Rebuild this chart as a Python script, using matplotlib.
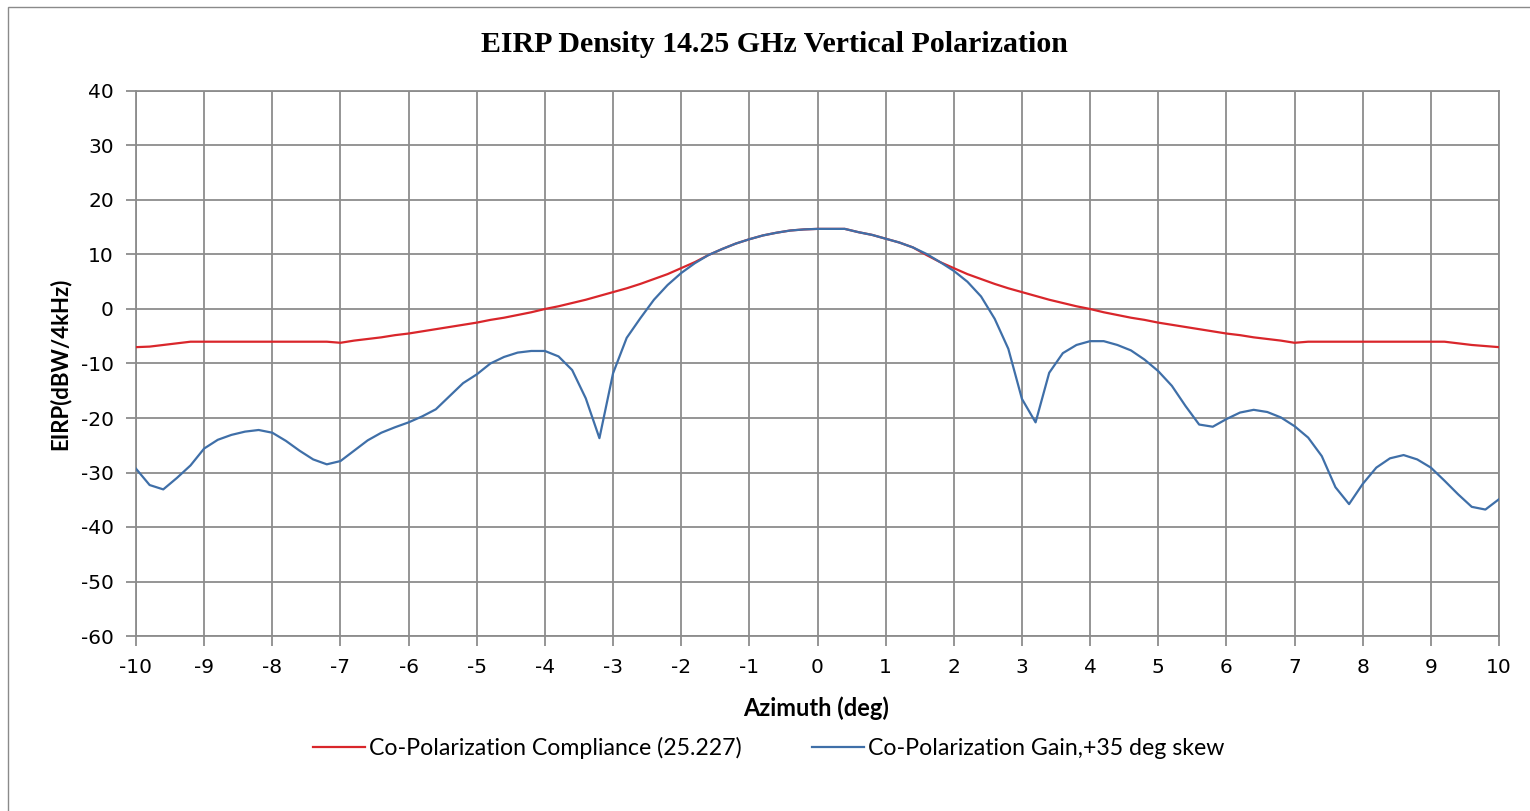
import numpy as np
import matplotlib
matplotlib.use('Agg')
import matplotlib.pyplot as plt
from matplotlib.patches import Rectangle

plt.rcParams['axes.unicode_minus'] = False

# Azimuth samples (deg), 0.2 deg steps
azimuth = [
    -10.0, -9.8, -9.6, -9.4, -9.2, -9.0, -8.8, -8.6, -8.4, -8.2,
    -8.0, -7.8, -7.6, -7.4, -7.2, -7.0, -6.8, -6.6, -6.4, -6.2,
    -6.0, -5.8, -5.6, -5.4, -5.2, -5.0, -4.8, -4.6, -4.4, -4.2,
    -4.0, -3.8, -3.6, -3.4, -3.2, -3.0, -2.8, -2.6, -2.4, -2.2,
    -2.0, -1.8, -1.6, -1.4, -1.2, -1.0, -0.8, -0.6, -0.4, -0.2,
    0.0, 0.2, 0.4, 0.6, 0.8, 1.0, 1.2, 1.4, 1.6, 1.8,
    2.0, 2.2, 2.4, 2.6, 2.8, 3.0, 3.2, 3.4, 3.6, 3.8,
    4.0, 4.2, 4.4, 4.6, 4.8, 5.0, 5.2, 5.4, 5.6, 5.8,
    6.0, 6.2, 6.4, 6.6, 6.8, 7.0, 7.2, 7.4, 7.6, 7.8,
    8.0, 8.2, 8.4, 8.6, 8.8, 9.0, 9.2, 9.4, 9.6, 9.8,
    10.0,
]

# Co-Polarization Compliance (25.227), dBW/4kHz
compliance = [
    -7.0, -6.9, -6.6, -6.3, -6.0, -6.0, -6.0, -6.0, -6.0, -6.0,
    -6.0, -6.0, -6.0, -6.0, -6.0, -6.2, -5.8, -5.5, -5.2, -4.8,
    -4.5, -4.1, -3.7, -3.3, -2.9, -2.5, -2.0, -1.6, -1.1, -0.6,
    0.0, 0.5, 1.1, 1.7, 2.4, 3.1, 3.8, 4.6, 5.5, 6.4,
    7.5, 8.6, 9.9, 11.0, 12.0, 12.8, 13.5, 14.0, 14.4, 14.6,
    14.7, 14.7, 14.7, 14.1, 13.6, 12.9, 12.2, 11.3, 9.9, 8.6,
    7.5, 6.4, 5.5, 4.6, 3.8, 3.1, 2.4, 1.7, 1.1, 0.5,
    0.0, -0.6, -1.1, -1.6, -2.0, -2.5, -2.9, -3.3, -3.7, -4.1,
    -4.5, -4.8, -5.2, -5.5, -5.8, -6.2, -6.0, -6.0, -6.0, -6.0,
    -6.0, -6.0, -6.0, -6.0, -6.0, -6.0, -6.0, -6.3, -6.6, -6.8,
    -7.0,
]

# Co-Polarization Gain, +35 deg skew, dBW/4kHz
gain = [
    -29.3, -32.3, -33.1, -31.0, -28.7, -25.6, -24.0, -23.1, -22.5, -22.2,
    -22.7, -24.2, -26.0, -27.6, -28.5, -27.9, -26.0, -24.1, -22.7, -21.7,
    -20.8, -19.7, -18.4, -16.0, -13.6, -12.0, -10.0, -8.8, -8.0, -7.7,
    -7.7, -8.7, -11.2, -16.4, -23.7, -11.8, -5.3, -1.7, 1.7, 4.4,
    6.6, 8.4, 9.9, 11.0, 12.0, 12.8, 13.5, 14.0, 14.4, 14.6,
    14.7, 14.7, 14.7, 14.1, 13.6, 12.9, 12.2, 11.3, 10.1, 8.6,
    7.0, 5.0, 2.3, -1.8, -7.3, -16.5, -20.8, -11.7, -8.1, -6.6,
    -5.9, -5.9, -6.6, -7.6, -9.3, -11.4, -14.1, -17.8, -21.2, -21.6,
    -20.2, -19.0, -18.5, -18.9, -19.9, -21.5, -23.6, -27.0, -32.7, -35.8,
    -32.1, -29.1, -27.4, -26.8, -27.6, -29.1, -31.5, -34.0, -36.3, -36.8,
    -34.9,
]

x_ticks = list(range(-10, 11))
y_ticks = list(range(-60, 41, 10))

grid_color = '#8c8c8c'
label_font = ['Lato', 'DejaVu Sans']

fig = plt.figure(figsize=(15.3, 8.11), dpi=100)
fig.patch.set_facecolor('white')

# outer chart border
fig.patches.append(Rectangle((8 / 1530, -0.05), 1.1, 1 - 7 / 811 + 0.05,
                             transform=fig.transFigure, fill=False,
                             edgecolor='#8a8a8a', linewidth=1.0))

ax = fig.add_axes([136 / 1530, 175 / 811, 1363 / 1530, 545 / 811])

ax.plot(azimuth, compliance, color='#d9262b', linewidth=1.6,
        label='Co-Polarization Compliance (25.227)', zorder=3)
ax.plot(azimuth, gain, color='#3f6fa8', linewidth=1.6,
        label='Co-Polarization Gain,+35 deg skew', zorder=4)

ax.set_xlim(-10, 10)
ax.set_ylim(-60, 40)
ax.set_xticks(x_ticks)
ax.set_yticks(y_ticks)
ax.grid(True, color=grid_color, linewidth=1.3)
ax.set_axisbelow(True)
for s in ax.spines.values():
    s.set_color(grid_color)
    s.set_linewidth(1.3)

ax.tick_params(axis='both', direction='out', length=7, width=1.3,
               color=grid_color, labelsize=14.5, labelcolor='black')
ax.tick_params(axis='x', pad=9)
ax.tick_params(axis='y', pad=9)

fig.text(774 / 1530, 1 - 44 / 811, 'EIRP Density 14.25 GHz Vertical Polarization',
         ha='center', va='center', fontsize=21.5, fontweight='bold',
         family=['Liberation Serif', 'DejaVu Serif'])
fig.text(816 / 1530, 1 - 708 / 811, 'Azimuth (deg)', ha='center', va='center',
         fontsize=17, fontweight='bold', family=label_font)
fig.text(60 / 1530, 1 - 364 / 811, 'EIRP(dBW/4kHz)', ha='center', va='center',
         rotation=90, fontsize=16, fontweight='bold', family=label_font)

fig.legend(loc='center', bbox_to_anchor=(768.5 / 1530, 1 - 748 / 811), ncol=2,
           frameon=False, handlelength=2.25, handletextpad=0.15,
           columnspacing=3.05, prop={'family': label_font, 'size': 16.7})

fig.savefig('out.png', dpi=100)
plt.close(fig)
